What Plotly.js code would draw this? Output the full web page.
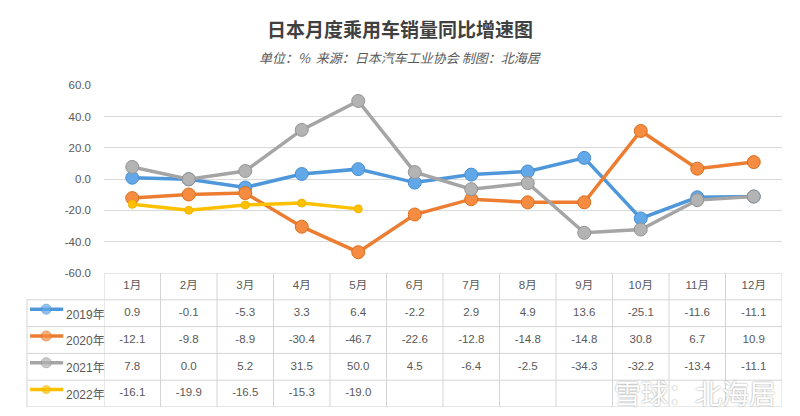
<!DOCTYPE html>
<html><head><meta charset="utf-8">
<script src="https://cdn.plot.ly/plotly-3.0.1.min.js"></script>
<style>html,body{margin:0;padding:0;background:#fff}#chart{width:800px;height:416px}</style>
</head><body><div id="chart"></div>
<script>
const months = ['1月','2月','3月','4月','5月','6月','7月','8月','9月','10月','11月','12月'];
const seriesNames = ['2019年','2020年','2021年','2022年'];
const y2019 = [0.9,-0.1,-5.3,3.3,6.4,-2.2,2.9,4.9,13.6,-25.1,-11.6,-11.1];
const y2020 = [-12.1,-9.8,-8.9,-30.4,-46.7,-22.6,-12.8,-14.8,-14.8,30.8,6.7,10.9];
const y2021 = [7.8,0.0,5.2,31.5,50.0,4.5,-6.4,-2.5,-34.3,-32.2,-13.4,-11.1];
const y2022 = [-16.1,-19.9,-16.5,-15.3,-19.0];
const yTicks = [-60,-40,-20,0,20,40,60];

const W = 800, H = 416;
const px = v => v / W, py = v => 1 - v / H;
const plotL = 104, plotR = 782, plotT = 85.3, plotB = 273, tabB = 407, legL = 27;

const styles = [
  {line:'#4E97DB', mk:'#62A8E8', edge:'#4A8FD0', size:13},
  {line:'#ED7D31', mk:'#F58C42', edge:'#D9701F', size:13},
  {line:'#A5A5A5', mk:'#B3B3B3', edge:'#939393', size:13},
  {line:'#FFC000', mk:'#FFC000', edge:'#F2B500', size:8}
];
const series = [y2019, y2020, y2021, y2022];
const textCol = '#595959';
const gridCol = '#d9d9d9';
const tabCol = '#d4d4d4';
const font = '"Liberation Sans", Arial, "Noto Sans CJK SC", sans-serif';

const traces = [];
series.forEach((vals, k) => {
  const s = styles[k];
  traces.push({
    type:'scatter', mode:'lines+markers', name: seriesNames[k],
    x: months.slice(0, vals.length), y: vals,
    xaxis:'x', yaxis:'y',
    line:{color:s.line, width:3.5},
    marker:{size:s.size, color:s.mk, line:{color:s.edge, width:1}},
    cliponaxis:false, hoverinfo:'skip', showlegend:false
  });
});

// Table text: header row
traces.push({
  type:'scatter', mode:'text', x: months, y: months.map(() => 0.5),
  text: months, xaxis:'x', yaxis:'y2',
  textfont:{size:11.5, color:textCol, family:font}, hoverinfo:'skip', showlegend:false
});
series.forEach((vals, k) => {
  traces.push({
    type:'scatter', mode:'text', x: months.slice(0, vals.length), y: vals.map(() => k + 1.5),
    text: vals.map(v => v.toFixed(1)), xaxis:'x', yaxis:'y2',
    textfont:{size:11.5, color:textCol, family:font}, hoverinfo:'skip', showlegend:false
  });
  // legend icons
  const s = styles[k];
  traces.push({
    type:'scatter', mode:'lines+markers', x:[0.04, 0.25, 0.47], y:[k+1.35, k+1.35, k+1.35],
    xaxis:'x3', yaxis:'y2',
    line:{color:s.line, width:3.5},
    marker:{size:[0, s.size === 13 ? 10 : 8, 0], color:s.mk, line:{color:s.edge, width:[0,1,0]}},
    cliponaxis:false, hoverinfo:'skip', showlegend:false
  });
});

const shapes = [];
// horizontal table lines
shapes.push({type:'line', xref:'x', yref:'y2', x0:-0.5, x1:11.5, y0:0, y1:0, line:{color:tabCol, width:1}});
for (let r = 1; r <= 5; r++) {
  shapes.push({type:'line', xref:'paper', yref:'y2', x0:px(legL), x1:px(plotR), y0:r, y1:r, line:{color:tabCol, width:1}});
}
for (let c = 0; c <= months.length; c++) {
  shapes.push({type:'line', xref:'x', yref:'y2', x0:c - 0.5, x1:c - 0.5, y0:0, y1:5, line:{color:tabCol, width:1}});
}
shapes.push({type:'line', xref:'paper', yref:'y2', x0:px(legL), x1:px(legL), y0:1, y1:5, line:{color:tabCol, width:1}});

const annotations = [
  {text:'单位：%  来源：日本汽车工业协会 制图：北海居', xref:'paper', yref:'paper', x:0.5, y:py(57), xanchor:'center', yanchor:'middle', showarrow:false,
   font:{size:13, color:textCol, family:'"Noto Sans CJK SC", sans-serif', style:'italic'}},
  {text:'雪球：北海居', xref:'paper', yref:'paper', x:px(778), y:py(392), xanchor:'right', yanchor:'middle', showarrow:false,
   font:{size:27, color:'#ffffff', family:'"Noto Sans CJK SC", sans-serif', shadow:'0px 0px 2px #8a8a8a'}}
];
seriesNames.forEach((n, k) => {
  annotations.push({text:n, xref:'x3', yref:'y2', x:0.48, y:k + 1.55, xanchor:'left', yanchor:'middle', showarrow:false,
    font:{size:12, color:textCol, family:font}});
});

const layout = {
  width:W, height:H, margin:{l:0, r:0, t:0, b:0},
  paper_bgcolor:'#fff', plot_bgcolor:'rgba(0,0,0,0)',
  title:{text:'日本月度乘用车销量同比增速图', x:0.5, xanchor:'center', y:py(30), yanchor:'middle',
    font:{size:19, color:'#404040', family:'"Noto Sans CJK SC", sans-serif', weight:'bold'}},
  xaxis:{domain:[px(plotL), px(plotR)], type:'category', range:[-0.5, 11.5], anchor:'y',
    showticklabels:false, showgrid:false, zeroline:false, showline:false, ticks:'', fixedrange:true},
  yaxis:{domain:[py(plotB), py(plotT)], range:[-60, 60], tickvals:yTicks, ticktext:yTicks.map(v => v.toFixed(1)),
    showgrid:true, gridcolor:gridCol, gridwidth:1, zeroline:false, showline:false, ticks:'',
    ticklabelstandoff:12, tickfont:{size:11.5, color:textCol, family:font}, anchor:'x', fixedrange:true},
  yaxis2:{domain:[py(tabB), py(plotB)], range:[5, 0], visible:false, anchor:'x', fixedrange:true},
  xaxis3:{domain:[px(legL), px(plotL)], range:[0, 1], visible:false, anchor:'y2', fixedrange:true},
  shapes, annotations, showlegend:false
};

Plotly.newPlot('chart', traces, layout, {staticPlot:true, displayModeBar:false});
</script>
</body></html>
